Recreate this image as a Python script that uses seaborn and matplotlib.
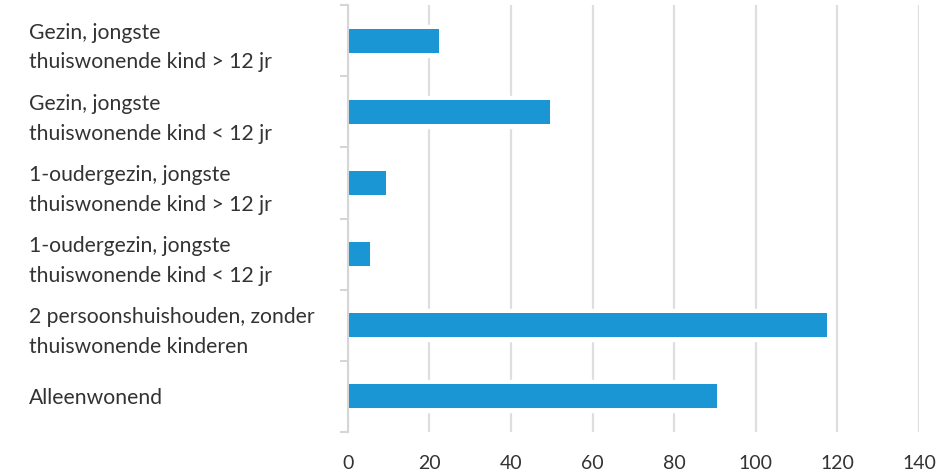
import matplotlib
matplotlib.use("Agg")
import matplotlib.pyplot as plt
import seaborn as sns
import pandas as pd
from matplotlib.ticker import FixedLocator

categories = [
    "Gezin, jongste\nthuiswonende kind > 12 jr",
    "Gezin, jongste\nthuiswonende kind < 12 jr",
    "1-oudergezin, jongste\nthuiswonende kind > 12 jr",
    "1-oudergezin, jongste\nthuiswonende kind < 12 jr",
    "2 persoonshuishouden, zonder\nthuiswonende kinderen",
    "Alleenwonend",
]
values = [22.5, 49.5, 9.5, 5.5, 117.5, 90.5]
x_ticks = [0, 20, 40, 60, 80, 100, 120, 140]

sns.set_theme(style="white")
plt.rcParams['font.family'] = ['Lato', 'DejaVu Sans']

BAR = "#1996d3"
GRID = "#dedede"
TXT = "#333333"

fig = plt.figure(figsize=(9.43, 4.75), dpi=100)
ax = fig.add_axes([0.3687, 0.0912, 0.6058, 0.8976])

df = pd.DataFrame({"cat": categories, "val": values})

# white halo bars that interrupt gridlines
sns.barplot(data=df, x="val", y="cat", orient="h", color="white",
            width=0.42, saturation=1, edgecolor="white", linewidth=2.5, ax=ax)
# blue bars
sns.barplot(data=df, x="val", y="cat", orient="h", color=BAR,
            width=0.338, saturation=1, linewidth=0, ax=ax)

ax.set_xlim(0, 140)
ax.set_ylim(len(categories) - 0.5, -0.5)
ax.set_xticks(x_ticks)
ax.set_xticklabels([str(t) for t in x_ticks])
ax.set_xlabel("")
ax.set_ylabel("")

ax.set_axisbelow(True)
ax.xaxis.grid(True, color=GRID, linewidth=1.6)
ax.yaxis.grid(False)

for s in ["top", "right", "bottom"]:
    ax.spines[s].set_visible(False)
ax.spines["left"].set_color("#d6d6d6")
ax.spines["left"].set_linewidth(1.5)

ax.yaxis.set_minor_locator(FixedLocator([-0.5 + i for i in range(len(categories) + 1)]))
ax.tick_params(axis="y", which="minor", left=True, length=6, width=1.5, color="#d6d6d6")
ax.tick_params(axis="y", which="major", left=False, length=0, pad=229.5,
               labelsize=15.2, labelcolor=TXT)
for lbl in ax.get_yticklabels():
    lbl.set_horizontalalignment("left")
    lbl.set_multialignment("left")
    lbl.set_linespacing(1.6)

ax.tick_params(axis="x", which="both", bottom=False, length=0, pad=16.5,
               labelsize=14, labelcolor=TXT)

fig.savefig("out.png", dpi=100, facecolor="white")
